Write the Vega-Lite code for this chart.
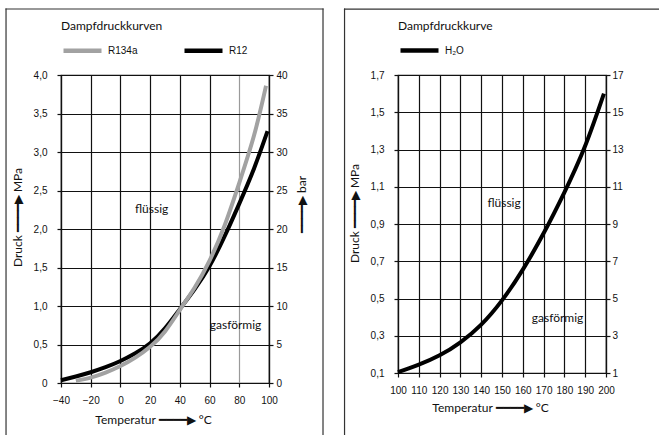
{
  "$schema": "https://vega.github.io/schema/vega-lite/v6.json",
  "autosize": {"type": "pad"},
  "padding": {"left": 4, "top": 7, "right": 0, "bottom": 0},
  "background": "white",
  "spacing": 18,
  "config": {
    "view": {"stroke": "#111", "strokeWidth": 1.2},
    "axis": {
      "labelFont": "Liberation Sans", "labelFontSize": 10, "labelColor": "#111",
      "titleFont": "Lato", "titleFontSize": 12, "titleFontWeight": "normal", "titleColor": "#111",
      "domainColor": "#111", "domainWidth": 1.2, "tickColor": "#111", "tickWidth": 1.2, "tickSize": 4,
      "gridColor": "#111", "gridOpacity": 1, "gridWidth": 1.2, "labelOverlap": false, "labelFlush": false
    },
    "legend": {
      "labelFont": "Liberation Sans", "labelFontSize": 10, "labelColor": "#111",
      "titleFont": "Lato", "titleFontSize": 12, "titleFontWeight": "normal", "titleColor": "#111",
      "symbolType": "stroke", "symbolStrokeWidth": 4.5, "symbolSize": 1444, "labelOffset": 4, "padding": 0
    }
  },
  "resolve": {"scale": {"color": "independent"}, "legend": {"color": "independent"}},
  "hconcat": [
    {
      "width": 208,
      "height": 308,
      "resolve": {"axis": {"x": "independent", "y": "independent"}},
      "layer": [
        {
          "data": {"values": [
            {"s": "R12", "T": -40, "P": 0.035},
            {"s": "R12", "T": -30, "P": 0.085},
            {"s": "R12", "T": -20, "P": 0.14},
            {"s": "R12", "T": -10, "P": 0.205},
            {"s": "R12", "T": 0, "P": 0.285},
            {"s": "R12", "T": 10, "P": 0.385},
            {"s": "R12", "T": 20, "P": 0.515},
            {"s": "R12", "T": 30, "P": 0.71},
            {"s": "R12", "T": 40, "P": 0.96},
            {"s": "R12", "T": 50, "P": 1.22},
            {"s": "R12", "T": 60, "P": 1.52},
            {"s": "R12", "T": 70, "P": 1.9},
            {"s": "R12", "T": 80, "P": 2.33},
            {"s": "R12", "T": 90, "P": 2.79},
            {"s": "R12", "T": 99, "P": 3.27},
            {"s": "R134a", "T": -30, "P": 0.03},
            {"s": "R134a", "T": -20, "P": 0.07},
            {"s": "R134a", "T": -10, "P": 0.135},
            {"s": "R134a", "T": 0, "P": 0.22},
            {"s": "R134a", "T": 10, "P": 0.33},
            {"s": "R134a", "T": 20, "P": 0.47},
            {"s": "R134a", "T": 30, "P": 0.67},
            {"s": "R134a", "T": 40, "P": 0.95},
            {"s": "R134a", "T": 50, "P": 1.24},
            {"s": "R134a", "T": 60, "P": 1.59},
            {"s": "R134a", "T": 70, "P": 2.04},
            {"s": "R134a", "T": 80, "P": 2.6},
            {"s": "R134a", "T": 90, "P": 3.22},
            {"s": "R134a", "T": 98, "P": 3.86}
          ]},
          "mark": {"type": "line", "strokeWidth": 4, "interpolate": "natural"},
          "encoding": {
            "x": {
              "field": "T", "type": "quantitative",
              "scale": {"domain": [-40, 100], "nice": false, "zero": false},
              "axis": {
                "values": [-40, -20, 0, 20, 40, 60, 80, 100], "grid": true, "labelPadding": 8,
                "title": "Temperatur ━━━━▶ °C", "titleX": 92, "titlePadding": 9,
                "gridColor": {"condition": {"test": "datum.value === 80", "value": "#9a9a9a"}, "value": "#111"}
              }
            },
            "y": {
              "field": "P", "type": "quantitative",
              "scale": {"domain": [0, 4], "nice": false},
              "axis": {
                "orient": "left", "values": [0, 0.5, 1, 1.5, 2, 2.5, 3, 3.5, 4], "grid": true,
                "labelExpr": "datum.value == 0 ? '0' : replace(format(datum.value, '.1f'), '.', ',')",
                "labelPadding": 10, "title": "Druck ━━━━▶ MPa", "titleY": 142, "titlePadding": 9
              }
            },
            "color": {
              "field": "s", "type": "nominal",
              "scale": {"domain": ["R134a", "R12"], "range": ["#a2a2a2", "#000000"]},
              "legend": {
                "orient": "none", "legendX": 0, "legendY": -54, "direction": "horizontal",
                "title": "Dampfdruckkurven", "titlePadding": -4, "columnPadding": 37
              }
            }
          }
        },
        {
          "data": {"values": [
            {"label": "flüssig", "T": 21, "P": 2.21},
            {"label": "gasförmig", "T": 77.5, "P": 0.7}
          ]},
          "mark": {"type": "text", "align": "center", "baseline": "alphabetic", "font": "Lato", "fontSize": 12, "color": "#111"},
          "encoding": {
            "x": {"field": "T", "type": "quantitative", "axis": null},
            "y": {
              "field": "P", "type": "quantitative",
              "axis": {
                "orient": "right", "values": [0, 0.5, 1, 1.5, 2, 2.5, 3, 3.5, 4], "grid": false,
                "labelExpr": "format(datum.value * 10, '.0f')", "labelPadding": 3,
                "title": "━━━━▶ bar", "titleAngle": 270, "titleBaseline": "top", "titleY": 129, "titlePadding": 9
              }
            },
            "text": {"field": "label"}
          }
        },
        {
          "data": {"values": [{}]},
          "mark": {"type": "rule", "color": "#333", "strokeWidth": 1.2, "strokeCap": "square"},
          "encoding": {
            "x": {"datum": -77, "type": "quantitative", "scale": {"domain": [-40, 100], "nice": false}, "axis": null},
            "y": {"datum": 4.857, "type": "quantitative", "scale": {"domain": [0, 4], "nice": false}, "axis": null},
            "y2": {"datum": -0.669}
          }
        },
        {
          "data": {"values": [{}]},
          "mark": {"type": "rule", "color": "#333", "strokeWidth": 1.2, "strokeCap": "square"},
          "encoding": {
            "x": {"datum": -77, "type": "quantitative", "scale": {"domain": [-40, 100], "nice": false}, "axis": null},
            "x2": {"datum": 136.35},
            "y": {"datum": 4.857, "type": "quantitative", "scale": {"domain": [0, 4], "nice": false}, "axis": null}
          }
        },
        {
          "data": {"values": [{}]},
          "mark": {"type": "rule", "color": "#333", "strokeWidth": 1.2, "strokeCap": "square"},
          "encoding": {
            "x": {"datum": 136.35, "type": "quantitative", "scale": {"domain": [-40, 100], "nice": false}, "axis": null},
            "y": {"datum": 4.857, "type": "quantitative", "scale": {"domain": [0, 4], "nice": false}, "axis": null},
            "y2": {"datum": -0.669}
          }
        }
      ]
    },
    {
      "width": 208,
      "height": 298,
      "resolve": {"axis": {"x": "independent", "y": "independent"}},
      "layer": [
        {
          "data": {"values": [
            {"s": "H₂O", "T": 100, "P": 0.105},
            {"s": "H₂O", "T": 110, "P": 0.145},
            {"s": "H₂O", "T": 120, "P": 0.195},
            {"s": "H₂O", "T": 130, "P": 0.265},
            {"s": "H₂O", "T": 140, "P": 0.36},
            {"s": "H₂O", "T": 150, "P": 0.49},
            {"s": "H₂O", "T": 160, "P": 0.655},
            {"s": "H₂O", "T": 170, "P": 0.85},
            {"s": "H₂O", "T": 180, "P": 1.07},
            {"s": "H₂O", "T": 190, "P": 1.32},
            {"s": "H₂O", "T": 199, "P": 1.6}
          ]},
          "mark": {"type": "line", "strokeWidth": 4, "interpolate": "natural"},
          "encoding": {
            "x": {
              "field": "T", "type": "quantitative",
              "scale": {"domain": [100, 200], "nice": false, "zero": false},
              "axis": {
                "values": [100, 110, 120, 130, 140, 150, 160, 170, 180, 190, 200], "grid": true, "labelPadding": 8,
                "title": "Temperatur ━━━━▶ °C", "titleX": 92, "titlePadding": 7
              }
            },
            "y": {
              "field": "P", "type": "quantitative",
              "scale": {"domain": [0.1, 1.7], "nice": false, "zero": false},
              "axis": {
                "orient": "left", "values": [0.1, 0.3, 0.5, 0.7, 0.9, 1.1, 1.3, 1.5, 1.7], "grid": true,
                "labelExpr": "replace(format(datum.value, '.1f'), '.', ',')",
                "labelPadding": 10, "title": "Druck ━━━━▶ MPa", "titleY": 138, "titlePadding": 9
              }
            },
            "color": {
              "field": "s", "type": "nominal",
              "scale": {"domain": ["H₂O"], "range": ["#000000"]},
              "legend": {
                "orient": "none", "legendX": 0, "legendY": -54, "direction": "horizontal",
                "title": "Dampfdruckkurve", "titlePadding": -4
              }
            }
          }
        },
        {
          "data": {"values": [
            {"label": "flüssig", "T": 151, "P": 0.99},
            {"label": "gasförmig", "T": 176.7, "P": 0.374}
          ]},
          "mark": {"type": "text", "align": "center", "baseline": "alphabetic", "font": "Lato", "fontSize": 12, "color": "#111"},
          "encoding": {
            "x": {"field": "T", "type": "quantitative", "axis": null},
            "y": {
              "field": "P", "type": "quantitative",
              "axis": {
                "orient": "right", "values": [0.1, 0.3, 0.5, 0.7, 0.9, 1.1, 1.3, 1.5, 1.7], "grid": false,
                "labelExpr": "format(datum.value * 10, '.0f')", "labelPadding": 2, "title": null
              }
            },
            "text": {"field": "label"}
          }
        },
        {
          "data": {"values": [{}]},
          "mark": {"type": "rule", "color": "#333", "strokeWidth": 1.2, "strokeCap": "square"},
          "encoding": {
            "x": {"datum": 74.3, "type": "quantitative", "scale": {"domain": [100, 200], "nice": false, "zero": false}, "axis": null},
            "y": {"datum": 2.054, "type": "quantitative", "scale": {"domain": [0.1, 1.7], "nice": false, "zero": false}, "axis": null},
            "y2": {"datum": -0.23}
          }
        },
        {
          "data": {"values": [{}]},
          "mark": {"type": "rule", "color": "#333", "strokeWidth": 1.2, "strokeCap": "square"},
          "encoding": {
            "x": {"datum": 74.3, "type": "quantitative", "scale": {"domain": [100, 200], "nice": false, "zero": false}, "axis": null},
            "x2": {"datum": 225.5},
            "y": {"datum": 2.054, "type": "quantitative", "scale": {"domain": [0.1, 1.7], "nice": false, "zero": false}, "axis": null}
          }
        }
      ]
    }
  ]
}
